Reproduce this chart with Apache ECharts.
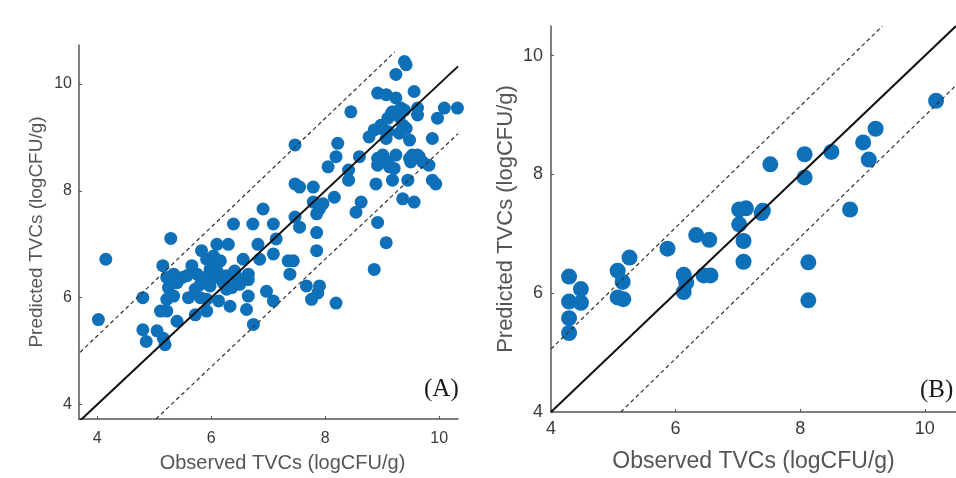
<!DOCTYPE html>
<html>
<head>
<meta charset="utf-8">
<script src="https://cdn.jsdelivr.net/npm/echarts@6/dist/echarts.min.js"></script>
<style>
html, body { margin: 0; padding: 0; background: #fff; }
#main { width: 956px; height: 478px; }
</style>
</head>
<body>
<div id="main"></div>
<script>
// (A) observed / predicted TVCs
var obsA = [
    4.02, 4.15, 4.80, 4.80, 4.86, 5.05, 5.16, 5.19, 5.15, 5.29,
    5.22, 5.34, 5.40, 5.25, 5.22, 5.22, 5.40, 5.49, 5.34, 5.57,
    5.66, 5.75, 5.83, 5.60, 5.72, 5.81, 5.92, 5.92, 5.98, 6.10,
    6.04, 6.16, 5.95, 6.07, 6.13, 6.21, 6.30, 6.27, 6.39, 6.33,
    6.41, 6.47, 6.56, 6.65, 6.65, 6.62, 6.73, 6.74, 5.11, 6.06,
    5.89, 5.98, 5.81, 5.72, 5.92, 6.65, 6.45, 6.36, 6.27, 6.50,
    6.10, 6.91, 6.82, 6.85, 6.97, 7.09, 7.09, 7.14, 7.09, 7.35,
    7.44, 7.38, 7.47, 7.47, 7.47, 7.55, 7.55, 7.67, 7.76, 7.87,
    7.90, 7.79, 7.79, 7.85, 7.90, 7.85, 7.85, 7.96, 8.16, 8.05,
    8.19, 8.22, 8.19, 8.41, 8.41, 8.45, 8.54, 8.63, 8.60, 8.77,
    8.86, 8.92, 8.89, 8.92, 8.86, 9.07, 8.92, 8.92, 8.98, 9.01,
    9.07, 9.07, 9.10, 9.18, 9.21, 9.24, 9.24, 9.24, 9.18, 9.30,
    9.36, 9.36, 9.42, 9.42, 9.39, 9.30, 9.48, 9.45, 9.48, 9.56,
    9.56, 9.62, 9.62, 9.65, 9.71, 9.62, 9.82, 9.88, 9.94, 9.88,
    9.97, 10.09, 10.32, 9.10, 9.10, 9.16, 8.97, 9.33, 9.39, 9.53,
    9.50, 9.13
];
var predA = [
    5.59, 6.72, 6.00, 5.40, 5.18, 5.38, 5.24, 5.12, 6.60, 7.11,
    6.38, 6.44, 6.28, 6.19, 5.97, 5.75, 5.56, 6.38, 6.03, 6.41,
    6.60, 6.44, 6.88, 6.00, 5.68, 6.00, 5.75, 6.72, 6.53, 7.00,
    6.78, 6.69, 6.28, 6.38, 5.94, 6.28, 7.00, 6.41, 7.38, 5.84,
    6.50, 6.34, 6.72, 6.44, 6.03, 5.78, 7.38, 5.50, 5.75, 6.60,
    6.38, 6.22, 6.25, 6.16, 5.97, 6.34, 6.38, 6.19, 6.16, 6.25,
    6.50, 7.66, 7.00, 6.72, 6.12, 7.38, 6.82, 7.10, 5.94, 6.69,
    6.69, 6.44, 7.51, 8.86, 8.13, 8.07, 7.32, 6.22, 5.97, 6.09,
    6.22, 8.07, 7.79, 7.57, 7.66, 7.22, 6.88, 7.76, 7.88, 8.45,
    8.64, 8.89, 5.90, 8.39, 8.20, 9.48, 7.60, 7.79, 8.64, 9.01,
    9.14, 9.83, 8.13, 7.41, 6.53, 7.03, 8.61, 8.48, 9.23, 8.67,
    9.80, 8.98, 8.54, 8.20, 8.42, 9.74, 10.18, 8.67, 9.48, 9.39,
    9.23, 7.85, 10.36, 9.17, 9.51, 9.08, 8.95, 8.20, 8.61, 9.86,
    7.79, 9.55, 9.42, 8.64, 8.54, 8.67, 8.48, 8.20, 8.13, 8.98,
    9.36, 9.55, 9.55, 9.36, 9.11, 9.45, 9.17, 9.55, 10.42, 8.67,
    8.54, 8.45
];

// (B) observed / predicted TVCs
var obsB = [
    4.29, 4.29, 4.29, 4.29, 4.48, 4.48, 5.07, 5.07, 5.16, 5.15,
    5.26, 5.87, 6.13, 6.17, 6.13, 6.33, 6.54, 6.45, 6.56, 7.02,
    7.13, 7.02, 7.09, 7.09, 7.40, 7.38, 7.52, 8.07, 8.07, 8.13,
    8.13, 8.50, 8.80, 9.01, 9.10, 9.21, 10.18
];
var predB = [
    6.28, 5.86, 5.58, 5.33, 6.07, 5.84, 6.38, 5.93, 5.90, 6.19,
    6.60, 6.75, 6.31, 6.18, 6.02, 6.98, 6.90, 6.30, 6.30, 7.41,
    7.43, 7.16, 6.88, 6.53, 7.39, 7.35, 8.17, 8.34, 7.95, 6.52,
    5.88, 8.38, 7.41, 8.54, 8.25, 8.77, 9.24
];

var tickValues = [4, 6, 8, 10];

// 参考线端点 [x1, y1, x2, y2]
var idealA = [3.70, 3.70, 10.33, 10.33];
var upperA = [3.70, 4.98, 9.22, 10.60];
var lowerA = [5.03, 3.73, 10.33, 9.07];
var idealB = [4.00, 4.00, 10.50, 10.50];
var upperB = [4.00, 5.06, 9.32, 10.50];
var lowerB = [5.12, 4.00, 10.50, 9.50];

var xName = "Observed TVCs (logCFU/g)";
var yName = "Predicted TVCs (logCFU/g)";

function toPoints(xs, ys) {
    var pts = [];
    for (var i = 0; i < xs.length; i++) {
        pts.push([xs[i], ys[i]]);
    }
    return pts;
}

function segment(arr) {
    return [[arr[0], arr[1]], [arr[2], arr[3]]];
}

// 坐标轴
function makeAxis(grid, min, max, name, nameSize, labelSize, nameGap, margin, namePad) {
    return {
        type: 'value',
        gridIndex: grid,
        min: min,
        max: max,
        name: name,
        nameLocation: 'middle',
        nameGap: nameGap,
        nameTextStyle: {
            fontFamily: 'Liberation Sans',
            fontSize: nameSize,
            color: '#555',
            padding: namePad || 0
        },
        axisLine: { show: true, onZero: false, lineStyle: { color: '#555', width: 1.5 } },
        axisTick: { show: true, inside: true, length: 3, customValues: tickValues, lineStyle: { color: '#555' } },
        axisLabel: {
            customValues: tickValues,
            margin: margin,
            fontFamily: 'Liberation Sans',
            fontSize: labelSize,
            color: '#3a3a3a'
        },
        splitLine: { show: false }
    };
}

function lineSeries(idx, arr, dashed) {
    return {
        type: 'line',
        xAxisIndex: idx,
        yAxisIndex: idx,
        data: segment(arr),
        symbol: 'none',
        silent: true,
        z: 5,
        lineStyle: dashed
            ? { color: '#333', width: 1.2, type: [4, 3] }
            : { color: '#111', width: 2 }
    };
}

function scatterSeries(idx, xs, ys, size) {
    return {
        type: 'scatter',
        xAxisIndex: idx,
        yAxisIndex: idx,
        data: toPoints(xs, ys),
        symbolSize: size,
        z: 3,
        itemStyle: { color: '#0f70ba', opacity: 1 }
    };
}

var myChart = echarts.init(document.getElementById('main'), null, { renderer: 'canvas' });

var option = {
    animation: false,
    backgroundColor: '#fff',
    grid: [
        { left: 79, top: 45, width: 379, height: 374 },
        { left: 551, top: 26, width: 407, height: 388 }
    ],
    xAxis: [
        makeAxis(0, 3.68, 10.33, xName, 20, 16, 34, 12, [0, 0, 0, 28]),
        makeAxis(1, 4, 10.5, xName, 23, 18, 38, 8)
    ],
    yAxis: [
        makeAxis(0, 3.73, 10.73, yName, 19, 16, 33, 7),
        makeAxis(1, 4, 10.5, yName, 22, 18, 34, 8)
    ],
    series: [
        scatterSeries(0, obsA, predA, 13),
        lineSeries(0, idealA, false),
        lineSeries(0, upperA, true),
        lineSeries(0, lowerA, true),
        scatterSeries(1, obsB, predB, 16),
        lineSeries(1, idealB, false),
        lineSeries(1, upperB, true),
        lineSeries(1, lowerB, true)
    ],
    graphic: [
        {
            type: 'text', left: 424, top: 377,
            style: { text: '(A)', font: '25px "Liberation Serif"', fill: '#1a1a1a' }
        },
        {
            type: 'text', left: 920, top: 378,
            style: { text: '(B)', font: '25px "Liberation Serif"', fill: '#1a1a1a' }
        }
    ]
};

myChart.setOption(option);
</script>
</body>
</html>
